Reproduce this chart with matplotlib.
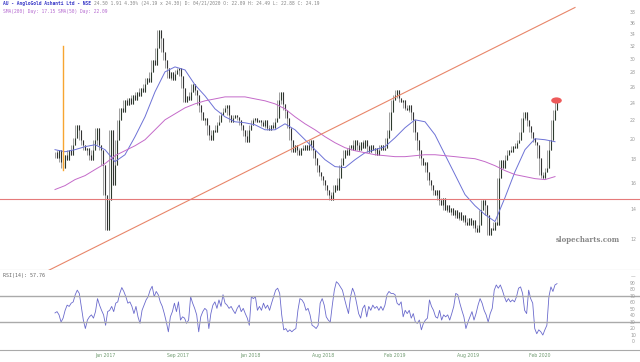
import numpy as np
import matplotlib.pyplot as plt
from matplotlib.markers import MarkerStyle
from matplotlib.transforms import Affine2D, blended_transform_factory
from matplotlib.ticker import NullLocator

# daily closes
closes = [
    18.76, 18.20, 18.96, 17.84, 17.31, 18.48, 18.02, 18.96, 18.48, 19.44,
    20.14, 21.51, 20.97, 19.94, 19.44, 18.96, 19.15, 18.48, 18.02, 18.96,
    19.94, 21.19, 19.44, 18.96, 17.57, 15.10, 12.64, 14.72, 20.97, 15.88,
    17.57, 19.94, 22.06, 23.44, 22.97, 24.41, 23.80, 24.66, 23.92, 25.04,
    24.41, 25.42, 24.91, 25.94, 25.42, 26.47, 27.29, 26.74, 28.13, 29.89,
    29.14, 31.77, 34.79, 33.41, 31.12, 29.89, 28.70, 27.29, 28.13, 27.01,
    27.84, 28.41, 28.70, 27.56, 25.94, 24.17, 24.91, 24.41, 25.42, 26.47,
    25.68, 25.04, 23.80, 22.97, 22.06, 22.29, 21.51, 20.45, 19.94, 20.97,
    20.76, 21.51, 21.84, 22.63, 22.97, 23.44, 23.80, 22.63, 21.84, 22.29,
    22.63, 22.40, 22.06, 21.51, 20.97, 20.35, 19.74, 20.97, 21.51, 22.06,
    22.29, 21.84, 22.06, 21.84, 21.40, 22.06, 21.19, 20.97, 21.51, 21.19,
    21.84, 22.29, 24.41, 25.42, 23.92, 23.21, 22.29, 21.19, 19.94, 18.76,
    19.44, 18.96, 18.48, 19.15, 18.96, 19.44, 18.96, 19.44, 19.94, 18.96,
    18.20, 17.57, 16.96, 16.62, 16.29, 15.88, 15.49, 15.10, 14.72, 15.33,
    15.88, 15.49, 16.46, 17.57, 18.20, 18.96, 18.48, 19.15, 19.44, 18.96,
    19.94, 19.44, 18.96, 19.74, 19.15, 19.94, 19.34, 18.76, 19.44, 18.96,
    19.15, 18.48, 18.96, 19.44, 18.96, 19.15, 20.14, 20.97, 22.97, 24.41,
    25.04, 25.68, 24.66, 24.17, 24.41, 23.44, 23.21, 23.80, 22.97, 22.06,
    20.76, 19.94, 18.96, 18.20, 17.57, 17.84, 16.96, 16.29, 15.88, 15.49,
    15.10, 15.49, 14.72, 14.35, 14.87, 13.99, 14.35, 13.85, 14.13, 13.64,
    13.99, 13.44, 13.85, 13.30, 13.64, 13.17, 12.97, 13.44, 12.97, 13.30,
    12.77, 12.52, 12.97, 13.99, 14.72, 14.35, 13.64, 12.33, 12.77, 12.64,
    13.17, 12.97, 16.46, 18.02, 17.31, 18.02, 18.48, 18.96, 18.76, 19.34,
    19.15, 19.64, 19.94, 20.76, 22.29, 22.97, 22.06, 21.40, 20.76, 20.14,
    19.74, 19.44, 18.20, 16.71, 16.46, 16.96, 17.31, 18.96, 19.94, 22.06,
    23.21, 24.19,
]

# moving averages, one reading every 5 bars
sma50 = [
    18.96, 18.76, 18.96, 19.25, 19.44, 18.96, 17.84, 18.48, 20.25, 22.40,
    25.42, 28.13, 28.85, 28.41, 26.33, 24.91, 23.32, 22.40, 21.84, 21.73,
    21.51, 20.97, 20.97, 21.62, 20.97, 19.94, 18.96, 18.02, 17.40, 17.31,
    18.02, 18.67, 18.96, 19.25, 20.14, 21.19, 22.06, 21.84, 20.45, 18.48,
    16.71, 15.10, 14.27, 13.64, 13.17, 14.87, 16.96, 18.96, 20.04, 19.94,
    19.74,
]
sma200 = [
    15.49, 15.80, 16.29, 16.62, 17.14, 17.66, 18.39, 18.86, 19.34, 19.94,
    20.97, 22.06, 22.74, 23.44, 23.92, 24.29, 24.53, 24.78, 24.78, 24.78,
    24.53, 24.29, 23.92, 23.32, 22.40, 21.62, 20.97, 20.25, 19.64, 19.15,
    18.86, 18.67, 18.48, 18.39, 18.30, 18.30, 18.39, 18.48, 18.48, 18.39,
    18.30, 18.20, 18.11, 17.84, 17.48, 17.05, 16.71, 16.54, 16.37, 16.29,
    16.54,
]

rsi = [
    44, 46, 41, 30, 36, 48, 56, 54, 59, 61, 72, 79, 74, 54, 33, 20, 33, 38, 41, 36,
    46, 66, 56, 48, 41, 25, 46, 48, 54, 46, 59, 61, 74, 83, 77, 69, 59, 61, 54, 43,
    54, 38, 28, 48, 56, 64, 69, 79, 85, 69, 77, 72, 61, 54, 43, 30, 15, 38, 46, 59,
    46, 61, 33, 38, 36, 28, 33, 69, 59, 51, 41, 15, 38, 46, 51, 48, 20, 43, 56, 61,
    51, 64, 54, 72, 59, 56, 51, 54, 48, 43, 51, 56, 46, 51, 43, 36, 25, 69, 66, 69,
    48, 54, 48, 59, 51, 56, 48, 59, 69, 79, 82, 74, 41, 18, 20, 15, 18, 15, 18, 20,
    48, 66, 64, 59, 48, 51, 41, 25, 23, 20, 25, 59, 66, 56, 38, 33, 30, 56, 79, 92,
    89, 84, 79, 66, 54, 43, 69, 82, 74, 59, 43, 36, 51, 56, 38, 54, 48, 56, 51, 54,
    48, 54, 48, 56, 72, 77, 74, 74, 72, 59, 56, 61, 38, 48, 43, 48, 36, 43, 30, 28,
    33, 18, 28, 33, 36, 64, 54, 48, 38, 36, 48, 33, 41, 38, 41, 33, 43, 54, 74, 72,
    59, 48, 38, 20, 30, 38, 46, 33, 43, 56, 66, 59, 48, 41, 30, 43, 51, 79, 87, 82,
    87, 79, 69, 61, 66, 61, 64, 61, 69, 82, 84, 74, 48, 43, 79, 66, 59, 20, 12, 18,
    15, 10, 18, 25, 69, 84, 77, 87, 89,
]

price_ticks = list(range(12, 40, 2))
rsi_ticks = [0, 10, 20, 30, 40, 50, 60, 70, 80, 90, 100]
date_labels = ["Jan 2017", "Sep 2017", "Jan 2018", "Aug 2018",
               "Feb 2019", "Aug 2019", "Feb 2020"]
date_bars = [25, 61.5, 97.5, 134, 170, 206.5, 242.5]

title_name = "AU - AngloGold Ashanti Ltd - NSE"
title_stats = ("24.50 1.91 4.30% (24.19 x 24.30) D: 04/21/2020 "
               "O: 22.09 H: 24.49 L: 22.88 C: 24.19")
sma_text = "SMA(200) Day: 17.15 SMA(50) Day: 22.09"
rsi_text = "RSI(14): 57.76"

W, H = 640, 362
fig = plt.figure(figsize=(6.4, 3.62), dpi=100)
ax = fig.add_axes([0, 92 / H, 1, 270 / H])
ax2 = fig.add_axes([0, 12 / H, 1, 80 / H])

n = len(closes)
x = np.arange(n)
c = np.array(closes)
o = np.r_[c[0], c[:-1]]
nx = np.r_[c[1:], c[-1]]
up = c >= o
# wicks span the neighbouring closes, bodies open -> close
ax.vlines(x, np.minimum.reduce([o, c, nx]), np.maximum.reduce([o, c, nx]),
          colors='#555555', lw=0.4)
ax.vlines(x, np.minimum(o, c), np.maximum(o, c),
          colors=np.where(up, '#2e3b2e', '#333333'), lw=0.8)

xs = np.arange(0, 5 * len(sma50), 5)
ax.plot(xs, sma50, color='#6d72d6', lw=0.7)
ax.plot(xs, sma200, color='#c46ac9', lw=0.7)

# drawn annotations
ax.plot([-7.5, 260], [10.06, 38.99], color='#e8866a', lw=0.8)
ax.axhline(14.8, color='#e57a7a', lw=0.8)
ax.plot([4, 4], [17.14, 32.0], color='#f7a531', lw=1.0)
ell = MarkerStyle('o', transform=Affine2D().scale(1.7, 1))
ax.plot([250.5], [24.41], marker=ell, ms=4.5, color='#ee5a5a', mew=0)

ax.set_yscale('log')
ax.set_ylim(10.3, 40.5)
ax.set_xlim(-27.5, 292.5)
ax.set_xticks([])
ax.set_yticks([])
ax.yaxis.set_minor_locator(NullLocator())
for s in ['top', 'left', 'right']:
    ax.spines[s].set_visible(False)
ax.spines['bottom'].set_color('#aaaaaa')
tr = blended_transform_factory(ax.transAxes, ax.transData)
for v in price_ticks:
    ax.text(633 / W, v, str(v), transform=tr, fontsize=3.3, color='#999999',
            ha='center', va='center')

# RSI panel
xr = np.linspace(0, n - 1, len(rsi))
ax2.plot(xr, rsi, color='#6a6acc', lw=0.6)
ax2.axhline(70, color='#aaaaaa', lw=1)
ax2.axhline(30, color='#aaaaaa', lw=1)
ax2.set_ylim(-13, 110)
ax2.set_xlim(-27.5, 292.5)
ax2.set_yticks([])
for s in ['top', 'left', 'right']:
    ax2.spines[s].set_visible(False)
ax2.spines['bottom'].set_color('#aaaaaa')
ax2.set_xticks(date_bars, date_labels)
ax2.tick_params(axis='x', length=0, pad=2, labelsize=3.3, labelcolor='#6f9a6f')
tr2 = blended_transform_factory(ax2.transAxes, ax2.transData)
for v in rsi_ticks:
    ax2.text(633 / W, v, str(v) if v < 100 else '—', transform=tr2,
             fontsize=3.3, color='#999999', ha='center', va='center')

mono = 'DejaVu Sans Mono'
fig.text(3 / W, 1 - 4 / H, title_name, fontsize=3.3, family=mono,
         color='#3b3bc8', weight='bold', va='center')
fig.text(94 / W, 1 - 4 / H, title_stats, fontsize=3.3, family=mono,
         color='#888888', va='center')
fig.text(3 / W, 1 - 11 / H, sma_text, fontsize=3.3, family=mono,
         color='#b56ad0', va='center')
fig.text(3 / W, 1 - 275 / H, rsi_text, fontsize=3.6, family=mono,
         color='#666666', va='center')
fig.text(556 / W, 1 - 240 / H, 'slopecharts.com', fontsize=5,
         family='DejaVu Serif', weight='bold', color='#888888', va='center')

fig.savefig('out.png', dpi=100)
